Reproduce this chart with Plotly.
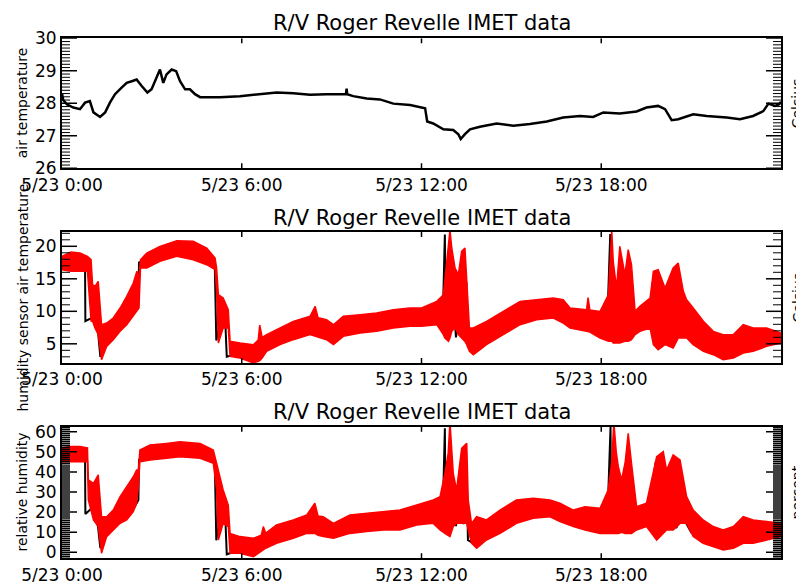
import math
import plotly.graph_objects as go

TITLE = "R/V Roger Revelle IMET data"
TICK_HOURS = [0, 6, 12, 18]
TICK_TEXT = ["5/23 0:00", "5/23 6:00", "5/23 12:00", "5/23 18:00"]

# ---- panel 1: air temperature (deg C) ----
air_hours = [0.00, 0.04, 0.16, 0.38, 0.60, 0.77, 0.93, 1.05, 1.27, 1.44, 1.60, 1.77, 1.99,
             2.16, 2.33, 2.49, 2.66, 2.85, 2.99, 3.16, 3.27, 3.38, 3.49, 3.66, 3.81, 3.94,
             4.11, 4.27, 4.44, 4.61, 5.27, 5.94, 6.61, 7.17, 7.72, 8.28, 8.83, 9.48, 9.50,
             9.52, 9.72, 10.17, 10.61, 11.06, 11.62, 12.12, 12.19, 12.39, 12.73, 13.06,
             13.23, 13.31, 13.45, 13.62, 13.95, 14.51, 15.06, 15.62, 16.18, 16.73, 17.29,
             17.73, 18.07, 18.62, 19.18, 19.51, 19.90, 20.13, 20.35, 20.57, 21.07, 21.52,
             22.19, 22.63, 23.07, 23.41, 23.58, 23.80, 23.94, 24.00]
air_temp = [28.30, 28.10, 27.97, 27.87, 27.82, 28.02, 28.07, 27.72, 27.58, 27.72, 28.02,
            28.28, 28.48, 28.63, 28.68, 28.73, 28.53, 28.33, 28.43, 28.83, 29.04, 28.63,
            28.89, 29.04, 28.99, 28.68, 28.43, 28.43, 28.28, 28.19, 28.19, 28.22, 28.28,
            28.33, 28.31, 28.26, 28.28, 28.28, 28.45, 28.28, 28.22, 28.15, 28.12, 27.99,
            27.95, 27.85, 27.44, 27.38, 27.20, 27.18, 27.05, 26.90, 27.05, 27.20, 27.28,
            27.38, 27.31, 27.36, 27.44, 27.56, 27.61, 27.58, 27.72, 27.69, 27.75, 27.87,
            27.92, 27.82, 27.48, 27.51, 27.66, 27.61, 27.56, 27.51, 27.61, 27.76, 27.99,
            27.92, 27.97, 28.05]

# ---- panel 2: humidity sensor air temperature (deg C) ----
hs_hours = [0.00, 0.30, 0.60, 0.85, 0.97, 1.02, 1.10, 1.21, 1.32, 1.49, 1.71, 1.94, 2.16,
            2.38, 2.50, 2.57, 2.62, 2.83, 3.27, 3.83, 4.38, 4.83, 5.11, 5.16, 5.22, 5.38,
            5.55, 5.61, 5.94, 6.39, 6.55, 6.60, 6.68, 6.83, 7.28, 7.72, 8.28, 8.45, 8.55,
            8.83, 9.06, 9.39, 9.95, 10.50, 11.06, 11.61, 12.00, 12.51, 12.73, 12.78, 12.90,
            12.95, 13.01, 13.12, 13.23, 13.34, 13.45, 13.51, 13.60, 13.73, 14.17, 14.73,
            15.29, 15.84, 16.40, 16.73, 16.96, 17.51, 17.56, 17.62, 17.96, 18.24, 18.35,
            18.40, 18.51, 18.62, 18.79, 18.90, 19.01, 19.13, 19.29, 19.63, 19.74, 19.90,
            20.13, 20.40, 20.57, 20.74, 20.85, 21.07, 21.41, 21.74, 22.07, 22.41, 22.74,
            23.07, 23.52, 24.00]
hs_temp_hi = [18.46, 19.12, 18.97, 18.46, 17.94, 14.10, 13.84, 14.61, 7.94, 8.20, 8.97,
              10.51, 12.30, 14.35, 16.15, 15.12, 17.94, 18.97, 19.99, 20.87, 20.76, 19.74,
              18.20, 16.66, 12.56, 12.05, 10.25, 5.38, 5.12, 4.87, 5.60, 7.90, 6.00, 6.41,
              7.43, 8.46, 9.23, 10.76, 9.00, 8.72, 7.94, 9.23, 9.48, 9.74, 10.25, 10.51,
              10.50, 11.53, 12.56, 15.12, 20.77, 22.50, 19.74, 16.66, 15.64, 19.23, 19.74,
              15.12, 7.43, 7.43, 8.46, 9.99, 11.53, 11.79, 12.05, 11.79, 10.51, 10.25,
              12.10, 10.20, 9.99, 12.56, 22.50, 17.69, 13.58, 19.99, 15.64, 19.48, 17.17,
              9.99, 10.76, 12.05, 16.15, 16.41, 13.58, 16.66, 17.43, 13.07, 11.79, 10.51,
              8.46, 6.92, 6.41, 6.41, 7.94, 7.43, 7.43, 6.66]
hs_temp_lo = [16.40, 16.15, 16.15, 16.15, 8.50, 8.46, 7.43, 6.41, 2.56, 4.61, 5.64, 6.92,
              7.94, 9.23, 9.99, 10.51, 16.66, 16.66, 17.69, 18.46, 17.94, 17.17, 16.40,
              13.07, 5.12, 7.43, 7.43, 3.07, 2.82, 2.05, 2.30, 2.40, 2.80, 3.84, 4.87,
              5.64, 6.41, 6.20, 6.00, 5.64, 4.87, 6.15, 6.66, 6.92, 7.43, 7.69, 7.69, 7.94,
              6.41, 5.89, 5.38, 5.89, 6.92, 7.43, 6.41, 5.89, 5.38, 4.87, 3.84, 3.33, 4.87,
              6.41, 7.94, 8.71, 8.97, 8.20, 7.43, 6.92, 6.90, 6.80, 5.89, 5.38, 5.38, 5.12,
              5.12, 5.12, 5.38, 5.38, 5.64, 6.41, 6.92, 7.43, 4.87, 4.10, 4.87, 4.35, 5.89,
              5.89, 5.89, 4.87, 3.84, 3.33, 2.56, 2.82, 3.58, 3.84, 4.61, 5.12]
hs_line_hours = [0.00, 0.77, 0.78, 1.00, 1.20, 1.28, 1.35, 1.60, 2.00, 2.40, 2.55, 2.57,
                 3.30, 3.80, 4.40, 4.80, 5.10, 5.15, 5.30, 5.45, 5.50, 5.90, 6.40, 6.80,
                 7.30, 8.30, 9.00, 9.40, 10.50, 11.60, 12.50, 12.70, 12.78, 12.80, 12.90,
                 12.95, 13.05, 13.15, 13.30, 13.40, 13.50, 13.55, 13.70, 14.20, 14.70,
                 15.30, 15.80, 16.40, 17.00, 17.50, 18.00, 18.20, 18.30, 18.32, 18.50,
                 18.55, 18.70, 18.75, 19.00, 19.20, 19.60, 19.72, 19.75, 20.00, 20.10,
                 20.45, 20.50, 20.70, 21.00, 21.40, 21.80, 22.10, 22.40, 22.70, 22.75,
                 22.80, 23.10, 23.50, 24.00]
hs_line_temp = [17.0, 16.5, 8.5, 9.0, 7.0, 3.0, 5.0, 6.5, 8.5, 10.5, 11.0, 17.5, 18.5,
                19.3, 19.0, 18.0, 17.0, 5.5, 9.0, 8.5, 3.0, 3.5, 3.0, 4.5, 5.5, 7.2, 5.8,
                7.0, 7.8, 8.3, 8.5, 7.0, 21.8, 9.0, 16.0, 8.0, 13.0, 6.0, 11.0, 7.0, 14.5,
                4.5, 4.0, 5.5, 7.2, 8.8, 9.6, 9.8, 8.2, 7.5, 7.0, 8.0, 21.9, 6.0, 12.0,
                6.0, 14.0, 6.0, 9.0, 7.5, 8.0, 14.5, 5.5, 9.0, 5.0, 15.0, 6.0, 8.0, 6.5,
                5.0, 4.0, 3.2, 3.5, 4.5, 7.0, 4.5, 5.0, 5.5, 6.0]

# ---- panel 3: relative humidity (percent) ----
rh_hours = [0.00, 0.30, 0.60, 0.85, 0.88, 1.05, 1.21, 1.32, 1.49, 1.71, 1.94, 2.16, 2.38,
            2.49, 2.55, 2.60, 2.94, 3.49, 3.94, 4.61, 5.05, 5.16, 5.22, 5.38, 5.55, 5.61,
            5.94, 6.39, 6.65, 6.72, 6.80, 7.16, 7.72, 8.17, 8.44, 8.55, 8.72, 9.06, 9.61,
            10.17, 10.73, 11.28, 11.84, 12.39, 12.62, 12.78, 12.89, 12.95, 13.06, 13.17,
            13.34, 13.51, 13.56, 13.67, 13.84, 14.17, 14.62, 15.17, 15.73, 16.29, 16.62,
            17.07, 17.46, 17.96, 18.23, 18.35, 18.42, 18.50, 18.57, 18.68, 18.80, 18.90,
            19.01, 19.18, 19.51, 19.85, 20.07, 20.18, 20.40, 20.63, 20.85, 21.07, 21.40,
            21.74, 22.07, 22.41, 22.74, 23.07, 23.52, 24.00]
rh_hi = [52.0, 52.6, 52.6, 52.0, 36.0, 34.3, 38.5, 17.7, 17.7, 21.0, 27.7, 32.7, 37.6,
         40.9, 40.9, 50.9, 53.4, 54.2, 55.0, 54.2, 50.9, 44.3, 40.9, 31.0, 23.5, 9.4, 7.8,
         7.0, 8.5, 12.8, 9.5, 13.6, 16.1, 18.6, 24.4, 18.0, 17.7, 14.4, 18.6, 19.4, 20.2,
         21.0, 23.5, 26.0, 27.7, 39.3, 49.2, 65.0, 39.3, 31.0, 51.7, 54.2, 26.0, 14.4,
         17.7, 16.1, 21.0, 26.0, 26.9, 26.0, 24.4, 21.0, 22.7, 21.9, 31.0, 45.0, 65.0,
         50.0, 42.6, 36.0, 45.0, 59.2, 44.3, 22.7, 24.4, 47.6, 50.1, 40.9, 48.4, 45.9,
         27.7, 21.0, 16.1, 12.8, 11.1, 12.8, 17.7, 16.1, 15.3, 14.4]
rh_lo = [45.1, 45.1, 45.1, 45.1, 26.0, 16.1, 12.8, -0.5, 7.8, 11.1, 14.4, 16.1, 20.2,
         24.4, 32.7, 45.1, 45.9, 46.8, 47.6, 46.8, 44.3, 31.0, 6.1, 14.4, 12.8, -0.5, -0.5,
         -2.2, 0.5, 1.2, 2.0, 4.5, 7.0, 9.4, 9.4, 8.5, 7.8, 7.0, 9.4, 10.3, 11.1, 11.1,
         13.6, 14.4, 11.1, 9.4, 8.5, 7.8, 12.8, 14.4, 14.4, 14.4, 11.1, 4.5, 2.0, 6.1, 9.4,
         14.4, 16.9, 17.7, 15.3, 12.8, 11.1, 9.4, 9.4, 9.4, 9.4, 9.4, 9.4, 10.0, 9.4, 9.4,
         9.4, 11.1, 12.8, 6.1, 9.4, 11.1, 11.1, 14.4, 14.4, 7.8, 4.5, 2.8, 1.2, 2.0, 4.5,
         4.5, 6.1, 7.8]
rh_line_hours = [0.00, 0.77, 0.78, 1.00, 1.20, 1.28, 1.35, 1.60, 2.00, 2.40, 2.55, 2.57,
                 3.30, 3.90, 4.60, 5.10, 5.15, 5.30, 5.45, 5.50, 5.90, 6.40, 6.80, 7.30,
                 8.20, 9.00, 9.60, 10.70, 11.30, 12.40, 12.70, 12.78, 12.80, 12.90, 12.95,
                 13.05, 13.15, 13.30, 13.40, 13.50, 13.55, 13.80, 14.20, 14.60, 15.20,
                 15.70, 16.30, 17.00, 17.50, 18.00, 18.20, 18.31, 18.33, 18.50, 18.55,
                 18.70, 18.75, 19.00, 19.20, 19.50, 19.82, 19.85, 20.00, 20.10, 20.45,
                 20.50, 20.70, 21.00, 21.40, 21.80, 22.10, 22.40, 22.70, 22.75, 22.80,
                 23.10, 23.50, 24.00]
rh_line = [47.0, 46.0, 19.0, 22.0, 13.0, 2.0, 8.0, 12.0, 17.0, 22.0, 26.0, 46.0, 48.0,
           49.0, 48.0, 45.0, 6.0, 20.0, 18.0, -1.0, 1.0, 0.0, 3.0, 6.0, 11.0, 9.0, 12.0,
           13.0, 13.5, 16.0, 14.0, 61.7, 16.0, 40.0, 14.0, 30.0, 13.0, 28.0, 14.0, 45.0,
           6.0, 4.0, 8.0, 12.0, 17.0, 19.0, 20.0, 15.0, 13.0, 12.0, 14.0, 62.5, 11.0,
           30.0, 11.0, 36.0, 11.0, 15.0, 13.0, 14.0, 45.0, 8.0, 20.0, 10.0, 35.0, 12.0,
           18.0, 10.0, 6.0, 4.0, 3.0, 4.0, 6.0, 14.0, 6.0, 7.0, 8.0, 9.0]

FONT = "DejaVu Sans"
RED = "#ff0000"
W, H = 796, 582
ML, MR = 62, 15
PW = W - ML - MR
X_RANGE = [0, 24]


def py(px):
    return 1 - px / H


def pxx(px):
    return (px - ML) / PW


domains = [
    [py(168.3), py(38.3)],
    [py(363.0), py(232.0)],
    [py(558.3), py(426.7)],
]
ranges = [[26, 30], [2.05, 22.2], [-3, 62.5]]
majors = [[26, 27, 28, 29, 30], [5, 10, 15, 20], [0, 10, 20, 30, 40, 50, 60]]
minor_dt = [0.1, 1, 1]
minor_w = [1, 1, 1.5]
ylabels = ["air temperature", "humidity sensor air temperature", "relative humidity"]
rlabels = ["Celsius", "Celsius", "percent"]
title_y = [23.5, 218.0, 411.5]

fig = go.Figure()

# panel 1
fig.add_trace(go.Scatter(x=air_hours, y=air_temp, mode="lines",
                         line=dict(color="black", width=2.5), xaxis="x", yaxis="y"))
# panel 2
fig.add_trace(go.Scatter(x=hs_line_hours, y=hs_line_temp, mode="lines",
                         line=dict(color="black", width=2), xaxis="x2", yaxis="y2"))
fig.add_trace(go.Scatter(x=hs_hours, y=hs_temp_lo, mode="lines",
                         line=dict(color=RED, width=1.5), xaxis="x2", yaxis="y2"))
fig.add_trace(go.Scatter(x=hs_hours, y=hs_temp_hi, mode="lines", fill="tonexty",
                         fillcolor=RED, line=dict(color=RED, width=1.5), xaxis="x2", yaxis="y2"))
# panel 3
fig.add_trace(go.Scatter(x=rh_line_hours, y=rh_line, mode="lines",
                         line=dict(color="black", width=2), xaxis="x3", yaxis="y3"))
fig.add_trace(go.Scatter(x=rh_hours, y=rh_lo, mode="lines",
                         line=dict(color=RED, width=1.5), xaxis="x3", yaxis="y3"))
fig.add_trace(go.Scatter(x=rh_hours, y=rh_hi, mode="lines", fill="tonexty",
                         fillcolor=RED, line=dict(color=RED, width=1.5), xaxis="x3", yaxis="y3"))

layout = dict(
    template="none",
    width=W, height=H, margin=dict(l=ML, r=MR, t=0, b=0, pad=0), autosize=False,
    plot_bgcolor="white", paper_bgcolor="white", showlegend=False,
    font=dict(family=FONT, color="black", size=17),
)
annotations = []
shapes = []
span_x = X_RANGE[1] - X_RANGE[0]
for i in range(3):
    k = "" if i == 0 else str(i + 1)
    lo, hi = ranges[i]
    layout["xaxis" + k] = dict(
        domain=[0, 1], anchor="y" + k, range=X_RANGE, tickmode="array",
        tickvals=TICK_HOURS, ticktext=TICK_TEXT, automargin=False, ticks="",
        showline=True, linecolor="black", linewidth=2, mirror=True,
        showgrid=False, zeroline=False,
    )
    layout["yaxis" + k] = dict(
        domain=domains[i], anchor="x" + k, range=ranges[i], tickmode="array",
        tickvals=majors[i], automargin=False, ticks="",
        showline=True, linecolor="black", linewidth=2, mirror=True,
        showgrid=False, zeroline=False,
    )

    # tick marks (IDL style: inside, on both sides), placed on the axis scales
    panel_px = (domains[i][1] - domains[i][0]) * H
    len_major = 15 * span_x / PW
    len_minor = 8 * span_x / PW
    len_xtick = 5 * (hi - lo) / panel_px
    tick_line = dict(type="line", xref="x" + k, yref="y" + k, layer="above")
    n0 = math.ceil(lo / minor_dt[i] - 1e-9)
    n1 = math.floor(hi / minor_dt[i] + 1e-9)
    for n in range(n0, n1 + 1):
        v = round(n * minor_dt[i], 6)
        if any(abs(v - m) < 1e-6 for m in majors[i]):
            continue
        for a, b in [(X_RANGE[0], X_RANGE[0] + len_minor), (X_RANGE[1] - len_minor, X_RANGE[1])]:
            shapes.append(dict(tick_line, x0=a, x1=b, y0=v, y1=v,
                               line=dict(color="black", width=minor_w[i])))
    for v in majors[i]:
        for a, b in [(X_RANGE[0], X_RANGE[0] + len_major), (X_RANGE[1] - len_major, X_RANGE[1])]:
            shapes.append(dict(tick_line, x0=a, x1=b, y0=v, y1=v,
                               line=dict(color="black", width=1.5)))
    for hx in TICK_HOURS[1:]:
        for a, b in [(lo, lo + len_xtick), (hi - len_xtick, hi)]:
            shapes.append(dict(tick_line, x0=hx, x1=hx, y0=a, y1=b,
                               line=dict(color="black", width=1.5)))

    annotations.append(dict(text=TITLE, xref="paper", yref="paper", x=0.5, y=py(title_y[i]),
                            xanchor="center", yanchor="middle", showarrow=False,
                            font=dict(family=FONT, size=21, color="black")))
    mid = (domains[i][0] + domains[i][1]) / 2
    annotations.append(dict(text=ylabels[i], xref="paper", yref="paper", x=pxx(22), y=mid,
                            xanchor="center", yanchor="middle", textangle=-90, showarrow=False,
                            font=dict(family=FONT, size=14, color="black")))
    annotations.append(dict(text=rlabels[i], xref="paper", yref="paper", x=pxx(797), y=mid,
                            xanchor="center", yanchor="middle", textangle=-90, showarrow=False,
                            font=dict(family=FONT, size=14, color="black")))
layout["annotations"] = annotations
layout["shapes"] = shapes
fig.update_layout(**layout)

fig.write_html("out.html")
